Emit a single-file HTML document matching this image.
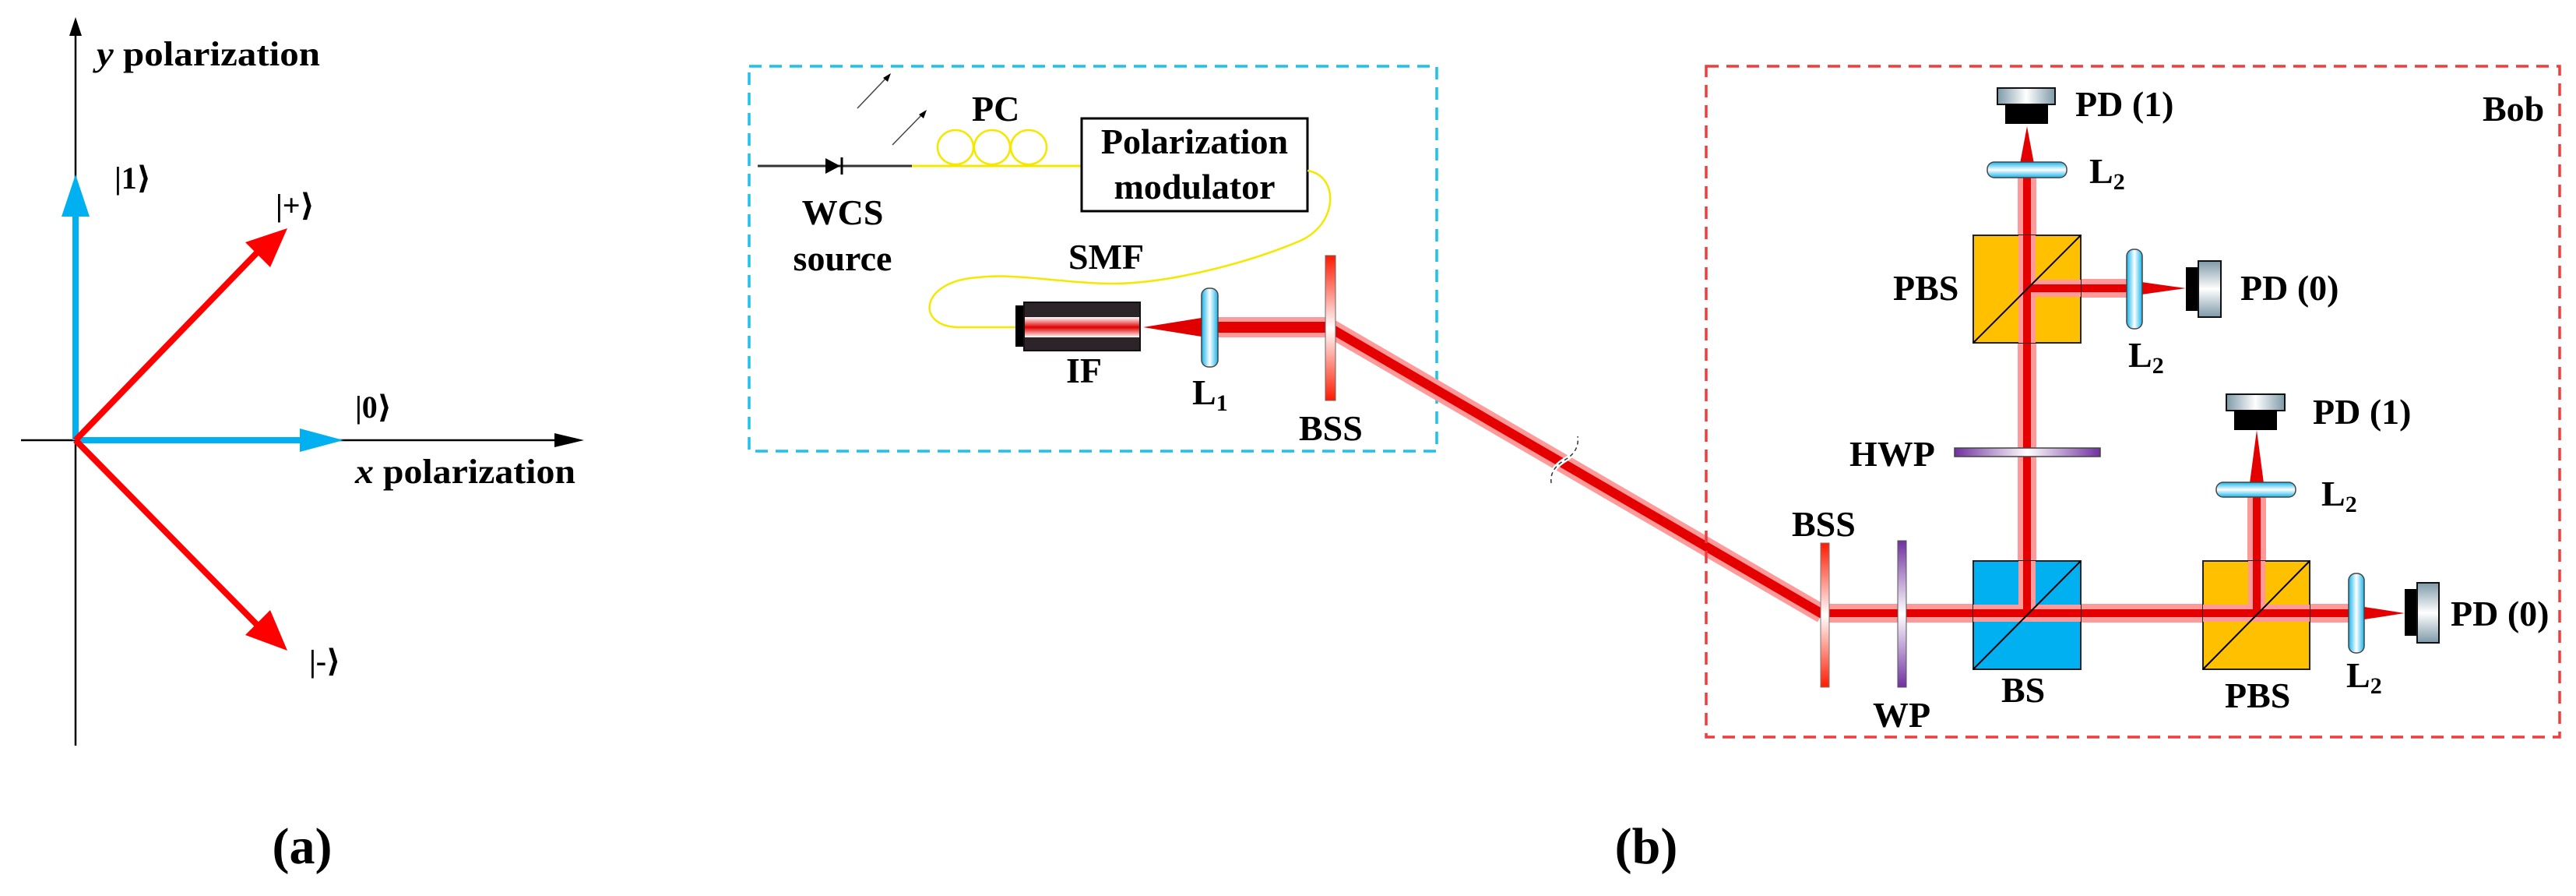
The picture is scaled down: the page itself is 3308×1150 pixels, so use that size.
<!DOCTYPE html>
<html><head><meta charset="utf-8"><style>
html,body{margin:0;padding:0;background:#fff;}
svg{display:block;}
svg text{font-family:"Liberation Serif","DejaVu Serif",serif;font-weight:bold;fill:#000;}
</style></head><body>
<svg width="3308" height="1150" viewBox="0 0 3308 1150" xmlns="http://www.w3.org/2000/svg" font-family="Liberation Serif, DejaVu Serif, serif" font-weight="bold">
<defs>
<linearGradient id="lensV" x1="0" y1="0" x2="0" y2="1"><stop offset="0" stop-color="#14b4ec"/><stop offset="0.5" stop-color="#ffffff"/><stop offset="1" stop-color="#14b4ec"/></linearGradient>
<linearGradient id="lensH" x1="0" y1="0" x2="1" y2="0"><stop offset="0" stop-color="#14b4ec"/><stop offset="0.5" stop-color="#ffffff"/><stop offset="1" stop-color="#14b4ec"/></linearGradient>
<linearGradient id="bssV" x1="0" y1="0" x2="0" y2="1"><stop offset="0" stop-color="#ff1a00"/><stop offset="0.5" stop-color="#fff"/><stop offset="1" stop-color="#ff1a00"/></linearGradient>
<linearGradient id="wpV" x1="0" y1="0" x2="0" y2="1"><stop offset="0" stop-color="#7030a0"/><stop offset="0.5" stop-color="#fff"/><stop offset="1" stop-color="#7030a0"/></linearGradient>
<linearGradient id="wpH" x1="0" y1="0" x2="1" y2="0"><stop offset="0" stop-color="#7030a0"/><stop offset="0.5" stop-color="#fff"/><stop offset="1" stop-color="#7030a0"/></linearGradient>
<linearGradient id="pdH" x1="0" y1="0" x2="1" y2="0"><stop offset="0" stop-color="#7e99a8"/><stop offset="0.5" stop-color="#ffffff"/><stop offset="1" stop-color="#7e99a8"/></linearGradient>
<linearGradient id="pdV" x1="0" y1="0" x2="0" y2="1"><stop offset="0" stop-color="#7e99a8"/><stop offset="0.5" stop-color="#ffffff"/><stop offset="1" stop-color="#7e99a8"/></linearGradient>
<linearGradient id="ifS" x1="0" y1="0" x2="0" y2="1"><stop offset="0" stop-color="#fff"/><stop offset="0.5" stop-color="#e00000"/><stop offset="1" stop-color="#fff"/></linearGradient>
</defs>

<!-- ===== Panel (a) ===== -->
<line x1="97" y1="957" x2="97" y2="40" stroke="#000" stroke-width="2.5"/>
<polygon points="97,22 89,46 105,46" fill="#000"/>
<line x1="27" y1="565" x2="725" y2="565" stroke="#000" stroke-width="2.5"/>
<polygon points="750,565 712,556 712,574" fill="#000"/>
<line x1="97" y1="565" x2="97" y2="270" stroke="#00b0f0" stroke-width="8"/>
<polygon points="97,224 79,278 115,278" fill="#00b0f0"/>
<line x1="97" y1="565" x2="395" y2="565" stroke="#00b0f0" stroke-width="8"/>
<polygon points="441,565 385,550 385,580" fill="#00b0f0"/>
<line x1="97" y1="565" x2="340" y2="314" stroke="#ff0000" stroke-width="8"/>
<polygon points="369,293 315,311 347,343" fill="#ff0000"/>
<line x1="97" y1="565" x2="340" y2="812" stroke="#ff0000" stroke-width="8"/>
<polygon points="369,835 347,783 315,815" fill="#ff0000"/>
<text x="124" y="84" font-size="44" textLength="287" lengthAdjust="spacingAndGlyphs"><tspan font-style="italic">y</tspan> polarization</text>
<text x="147" y="242" font-size="40">|1⟩</text>
<text x="354" y="277" font-size="40">|+⟩</text>
<text x="456" y="536" font-size="40">|0⟩</text>
<text x="456" y="620" font-size="44" textLength="283" lengthAdjust="spacingAndGlyphs"><tspan font-style="italic">x</tspan> polarization</text>
<text x="397" y="862" font-size="40">|-⟩</text>
<text x="388" y="1108" font-size="66" text-anchor="middle">(a)</text>

<!-- ===== Alice ===== -->
<rect x="962" y="85" width="883" height="494" fill="none" stroke="#1ec0ee" stroke-width="3.5" stroke-dasharray="16,10"/>
<line x1="973" y1="213" x2="1171" y2="213" stroke="#333" stroke-width="3"/>
<polygon points="1060,203 1060,223 1079,213" fill="#000"/>
<line x1="1081" y1="202" x2="1081" y2="224" stroke="#000" stroke-width="3"/>
<line x1="1101" y1="139" x2="1140" y2="98" stroke="#444" stroke-width="1.5"/>
<polygon points="1144,94 1134,100 1140,105" fill="#000"/>
<line x1="1146" y1="186" x2="1186" y2="145" stroke="#444" stroke-width="1.5"/>
<polygon points="1190,141 1180,147 1186,152" fill="#000"/>
<line x1="1171" y1="213" x2="1389" y2="213" stroke="#f5e800" stroke-width="3"/>
<ellipse cx="1227" cy="189" rx="23" ry="22" fill="none" stroke="#f5e800" stroke-width="2.5"/>
<ellipse cx="1274" cy="189" rx="23" ry="22" fill="none" stroke="#f5e800" stroke-width="2.5"/>
<ellipse cx="1321" cy="189" rx="23" ry="22" fill="none" stroke="#f5e800" stroke-width="2.5"/>
<text x="1248" y="155" font-size="46">PC</text>
<rect x="1389" y="152" width="290" height="119" fill="#fff" stroke="#000" stroke-width="3"/>
<text x="1534" y="197" font-size="46" text-anchor="middle">Polarization</text>
<text x="1534" y="255" font-size="46" text-anchor="middle">modulator</text>
<text x="1082" y="288" font-size="46" text-anchor="middle">WCS</text>
<text x="1082" y="347" font-size="46" text-anchor="middle">source</text>
<path d="M1679,219 C1720,225 1720,290 1665,311 C1600,338 1500,364 1429,364 C1370,364 1300,350 1257,356 C1180,360 1175,420 1232,420 L1305,420" fill="none" stroke="#f5e800" stroke-width="2.5"/>
<text x="1372" y="345" font-size="46">SMF</text>
<!-- IF -->
<rect x="1304" y="392" width="12" height="53" fill="#000"/>
<rect x="1315" y="388" width="149" height="62" fill="#2c2428" stroke="#111" stroke-width="2"/>
<rect x="1316" y="407" width="147" height="26" fill="url(#ifS)"/>
<text x="1369" y="491" font-size="46">IF</text>
<!-- beam in Alice -->
<polygon points="1468,420 1543,408 1543,432" fill="#e00000"/>
<line x1="1543" y1="420" x2="1708" y2="420" stroke="#ff9a9a" stroke-width="26"/>
<line x1="1543" y1="420" x2="1708" y2="420" stroke="#e40000" stroke-width="14"/>
<rect x="1543" y="370" width="21" height="101" rx="9" fill="url(#lensH)" stroke="#444" stroke-width="1.5"/>
<text x="1531" y="519" font-size="46">L<tspan font-size="30" dy="8">1</tspan></text>
<!-- diagonal beam -->
<line x1="1708" y1="421" x2="2340" y2="788" stroke="#ff9a9a" stroke-width="24"/>
<line x1="1708" y1="421" x2="2340" y2="788" stroke="#e40000" stroke-width="12"/>
<rect x="1702" y="328" width="13" height="186" fill="url(#bssV)" stroke="#666" stroke-width="1"/>
<text x="1668" y="565" font-size="46">BSS</text>
<!-- break mark -->
<path d="M1992,620 C1990,605 2000,596 2010,590 C2020,584 2028,575 2026,560" fill="none" stroke="#fff" stroke-width="6"/>
<path d="M1992,620 C1990,605 2000,596 2010,590 C2020,584 2028,575 2026,560" fill="none" stroke="#333" stroke-width="1.5" stroke-dasharray="5,4"/>

<!-- ===== Bob ===== -->
<rect x="2191" y="85" width="1096" height="861" fill="none" stroke="#f03c3c" stroke-width="3.5" stroke-dasharray="16,10"/>
<text x="3188" y="155" font-size="46">Bob</text>
<g stroke="#ff9a9a" stroke-width="24">
<line x1="2340" y1="787" x2="3020" y2="787"/>
<line x1="2603" y1="787" x2="2603" y2="228"/>
<line x1="2603" y1="370" x2="2735" y2="370"/>
<line x1="2898" y1="787" x2="2898" y2="628"/>
</g>
<g stroke="#e40000" stroke-width="10">
<line x1="2340" y1="787" x2="3020" y2="787"/>
<line x1="2603" y1="787" x2="2603" y2="228"/>
<line x1="2603" y1="370" x2="2735" y2="370"/>
<line x1="2898" y1="787" x2="2898" y2="628"/>
</g>
<polygon points="3030,778 3088,787 3030,796" fill="#e40000"/>
<polygon points="2750,362 2807,370 2750,378" fill="#e40000"/>
<polygon points="2594,210 2603,162 2612,210" fill="#e40000"/>
<polygon points="2889,620 2898,552 2907,620" fill="#e40000"/>
<rect x="2338" y="697" width="11" height="185" fill="url(#bssV)" stroke="#777" stroke-width="1"/>
<text x="2301" y="688" font-size="46">BSS</text>
<rect x="2437" y="694" width="11" height="188" fill="url(#wpV)" stroke="#555" stroke-width="1"/>
<text x="2405" y="933" font-size="46">WP</text>
<rect x="2534" y="720" width="138" height="139" fill="#00b0f0" stroke="#222" stroke-width="2"/>
<text x="2570" y="901" font-size="46">BS</text>
<rect x="2829" y="720" width="137" height="139" fill="#ffc000" stroke="#222" stroke-width="2"/>
<text x="2857" y="908" font-size="46">PBS</text>
<rect x="2534" y="302" width="138" height="138" fill="#ffc000" stroke="#222" stroke-width="2"/>
<text x="2431" y="385" font-size="46">PBS</text>
<g stroke="#ff9a9a" stroke-width="22">
<line x1="2534" y1="787" x2="2672" y2="787"/><line x1="2829" y1="787" x2="2966" y2="787"/>
<line x1="2603" y1="720" x2="2603" y2="787"/><line x1="2603" y1="302" x2="2603" y2="440"/>
<line x1="2603" y1="370" x2="2672" y2="370"/><line x1="2898" y1="720" x2="2898" y2="787"/>
</g>
<g stroke="#e40000" stroke-width="10">
<line x1="2534" y1="787" x2="2672" y2="787"/><line x1="2829" y1="787" x2="2966" y2="787"/>
<line x1="2603" y1="720" x2="2603" y2="787"/><line x1="2603" y1="302" x2="2603" y2="440"/>
<line x1="2603" y1="370" x2="2672" y2="370"/><line x1="2898" y1="720" x2="2898" y2="787"/>
</g>
<line x1="2534" y1="859" x2="2672" y2="720" stroke="#000" stroke-width="2"/>
<line x1="2829" y1="859" x2="2966" y2="720" stroke="#000" stroke-width="2"/>
<line x1="2534" y1="440" x2="2672" y2="302" stroke="#000" stroke-width="2"/>
<rect x="2510" y="575" width="187" height="11" fill="url(#wpH)" stroke="#444" stroke-width="1.5"/>
<text x="2375" y="598" font-size="46">HWP</text>
<rect x="2552" y="208" width="102" height="20" rx="9" fill="url(#lensV)" stroke="#444" stroke-width="1.5"/>
<text x="2683" y="235" font-size="46">L<tspan font-size="30" dy="8">2</tspan></text>
<rect x="2731" y="320" width="20" height="102" rx="9" fill="url(#lensH)" stroke="#444" stroke-width="1.5"/>
<text x="2733" y="471" font-size="46">L<tspan font-size="30" dy="8">2</tspan></text>
<rect x="2846" y="619" width="102" height="19" rx="9" fill="url(#lensV)" stroke="#444" stroke-width="1.5"/>
<text x="2981" y="649" font-size="46">L<tspan font-size="30" dy="8">2</tspan></text>
<rect x="3016" y="736" width="20" height="102" rx="9" fill="url(#lensH)" stroke="#444" stroke-width="1.5"/>
<text x="3013" y="882" font-size="46">L<tspan font-size="30" dy="8">2</tspan></text>
<rect x="2565" y="113" width="74" height="21" fill="url(#pdH)" stroke="#111" stroke-width="2"/>
<rect x="2575" y="133" width="55" height="26" fill="#000"/>
<text x="2665" y="149" font-size="46">PD (1)</text>
<rect x="2807" y="343" width="17" height="56" fill="#000"/>
<rect x="2823" y="335" width="29" height="72" fill="url(#pdV)" stroke="#111" stroke-width="2"/>
<text x="2877" y="385" font-size="46">PD (0)</text>
<rect x="2859" y="506" width="75" height="21" fill="url(#pdH)" stroke="#111" stroke-width="2"/>
<rect x="2869" y="526" width="55" height="26" fill="#000"/>
<text x="2970" y="544" font-size="46">PD (1)</text>
<rect x="3088" y="756" width="17" height="60" fill="#000"/>
<rect x="3104" y="748" width="28" height="77" fill="url(#pdV)" stroke="#111" stroke-width="2"/>
<text x="3147" y="803" font-size="46">PD (0)</text>

<text x="2114" y="1108" font-size="66" text-anchor="middle">(b)</text>
</svg>
</body></html>
